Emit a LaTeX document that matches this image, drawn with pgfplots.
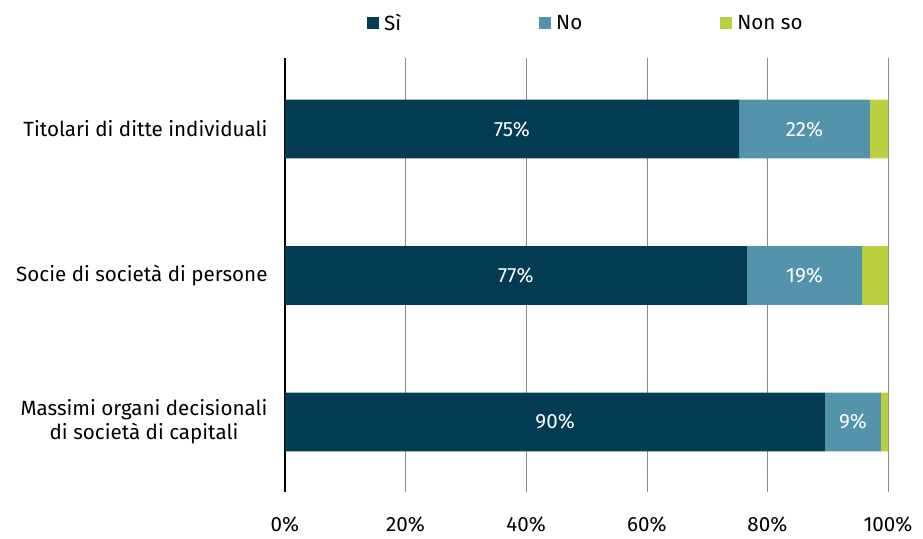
\documentclass[border=0pt]{standalone}
\usepackage{pgfplots}
\pgfplotsset{compat=1.18}
\usepackage{fontspec}
\setmainfont{Fira Sans}
\definecolor{cSi}{HTML}{033C52}
\definecolor{cNo}{HTML}{5393AB}
\definecolor{cNs}{HTML}{BCCF3E}
\newcommand{\fs}{\fontsize{20.6bp}{24bp}\selectfont}
\begin{document}
\begin{tikzpicture}
\useasboundingbox (-285bp,-47bp) rectangle (638bp,492bp);
\pgfplotsset{common/.style={
  at={(0,0)}, anchor=south west,
  scale only axis,
  width=603bp, height=434bp,
  xmin=0, xmax=100,
  ymin=-0.478, ymax=2.485,
  clip=false,
}}
\begin{axis}[
  common,
  xbar stacked,
  bar width=0.4,
  xtick={0,20,40,60,80,100},
  xticklabel={\pgfmathprintnumber{\tick}\%},
  ytick={0,1,2},
  yticklabels={{Massimi organi decisionali\\di società di capitali},{Socie di società di persone},{Titolari di ditte individuali}},
  yticklabel style={align=center, xshift=-14bp},
  xticklabel style={yshift=-21bp},
  /pgf/number format/assume math mode=true,
  tick style={draw=none},
  xmajorgrids, grid style={gray!90, line width=0.6bp},
  axis line style={draw=none},
  tick label style={font=\fs},
  legend columns=3,
  legend style={at={(0.131,1.081)}, anchor=west, draw=none, fill=none,
    font=\fs,
    /tikz/every odd column/.append style={column sep=3bp},
    /tikz/every even column/.append style={column sep=136bp}},
  legend image code/.code={\fill[#1] (0bp,-6bp) rectangle (12bp,6bp);},
]
\addplot[fill=cSi, draw=none] coordinates {(75.3,2) (76.6,1) (89.6,0)};
\addlegendentry{Sì}
\addplot[fill=cNo, draw=none] coordinates {(21.7,2) (19.1,1) (9.2,0)};
\addlegendentry{No}
\addplot[fill=cNs, draw=none] coordinates {(3.0,2) (4.3,1) (1.2,0)};
\addlegendentry{Non so}
\draw[black, line width=2.5bp] (axis cs:0,-0.478) -- (axis cs:0,2.485);
\end{axis}
\begin{axis}[common, hide axis]
\addplot[only marks, mark=*, mark size=0pt, mark options={draw=none, fill=none},
  nodes near coords, point meta=explicit symbolic,
  every node near coord/.append style={anchor=center, text=white, font=\fs}]
  coordinates {(37.65,2) [75\%] (38.3,1) [77\%] (44.8,0) [90\%]
               (86.15,2) [22\%] (86.15,1) [19\%] (94.2,0) [9\%]};
\end{axis}
\end{tikzpicture}
\end{document}
